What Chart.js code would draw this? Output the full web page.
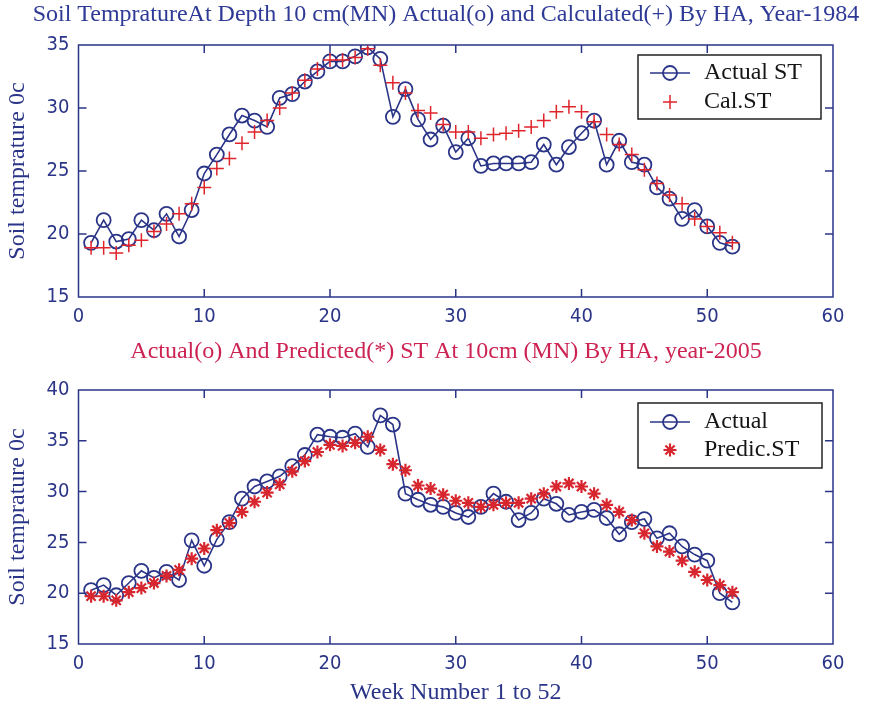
<!DOCTYPE html>
<html>
<head>
<meta charset="utf-8">
<script src="https://cdn.jsdelivr.net/npm/chart.js@4.4.1/dist/chart.umd.min.js"></script>
<style>
  html, body { margin: 0; padding: 0; background: #fff; }
  #wrap { position: relative; width: 872px; height: 712px; }
  #c1 { position: absolute; left: 0; top: 0; }
  #c2 { position: absolute; left: 0; top: 335px; }
</style>
</head>
<body>
<div id="wrap">
  <canvas id="c1" width="872" height="335"></canvas>
  <canvas id="c2" width="872" height="377"></canvas>
</div>
<script>
// week numbers (x values)
const weeks = [1,2,3,4,5,6,7,8,9,10,11,12,13,14,15,16,17,18,19,20,21,22,23,24,25,26,
               27,28,29,30,31,32,33,34,35,36,37,38,39,40,41,42,43,44,45,46,47,48,49,50,51,52];

// 1984 - actual (o) and calculated (+)
const actual1984 = [19.3,21.1,19.4,19.6,21.1,20.3,21.6,19.8,21.9,24.8,26.3,27.9,29.4,29.0,28.5,30.8,31.1,32.1,32.9,33.7,33.7,34.1,34.8,33.9,29.3,31.5,
                    29.1,27.5,28.6,26.5,27.6,25.4,25.6,25.6,25.6,25.7,27.1,25.5,26.9,28.0,29.0,25.5,27.4,25.7,25.5,23.7,22.8,21.2,21.9,20.6,19.3,19.0];
const cal1984 = [18.9,18.9,18.5,19.1,19.5,20.2,20.8,21.6,22.4,23.7,25.2,26.0,27.2,28.1,29.0,30.0,31.2,32.2,33.1,33.8,33.8,34.0,34.7,33.4,32.0,31.2,
                 29.8,29.6,28.7,28.1,28.1,27.6,27.9,28.0,28.2,28.5,29.0,29.7,30.1,29.7,28.9,27.9,27.1,26.3,25.1,24.0,23.1,22.4,21.2,20.6,20.1,19.3];

// 2005 - actual (o) and predicted (*)
const actual2005 = [20.3,20.8,19.8,21.0,22.2,21.5,22.1,21.3,25.2,22.7,25.3,27.0,29.3,30.5,31.0,31.5,32.5,33.6,35.6,35.4,35.3,35.7,34.4,37.5,36.6,29.8,
                    29.2,28.7,28.5,27.9,27.5,28.5,29.8,29.0,27.2,27.9,29.3,28.8,27.7,28.0,28.2,27.4,25.8,27.0,27.3,25.4,25.9,24.6,23.8,23.2,20.0,19.1];
const pred2005 = [19.7,19.7,19.3,20.1,20.5,21.0,21.7,22.3,23.4,24.4,26.2,26.9,28.0,29.0,29.9,30.7,32.0,33.0,33.9,34.6,34.5,34.8,35.4,34.1,32.7,32.1,
                  30.6,30.3,29.7,29.1,28.9,28.5,28.7,28.9,28.9,29.3,29.8,30.5,30.8,30.5,29.8,28.7,28.0,27.2,25.9,24.6,24.1,23.2,22.1,21.3,20.8,20.1];

const NAVY = '#2b3588';
const RED = '#e0242c';
const tickFont = { family: '"Liberation Sans Narrow", "DejaVu Sans Condensed", "Liberation Sans", sans-serif', size: 20 };
const serif = '"Liberation Serif", "DejaVu Serif", serif';

const pts = (ys) => weeks.map((w, i) => ({ x: w, y: ys[i] }));

// matlab style box with inward ticks
const frame = {
  id: 'frame',
  afterDatasetsDraw(chart) {
    const { ctx, chartArea: a, scales } = chart;
    const len = 8;
    ctx.save();
    ctx.strokeStyle = NAVY;
    ctx.lineWidth = 1.5;
    ctx.beginPath();
    scales.x.ticks.forEach(t => {
      const px = scales.x.getPixelForValue(t.value);
      if (px <= a.left + 1 || px >= a.right - 1) return;
      ctx.moveTo(px, a.bottom); ctx.lineTo(px, a.bottom - len);
      ctx.moveTo(px, a.top); ctx.lineTo(px, a.top + len);
    });
    scales.y.ticks.forEach(t => {
      const py = scales.y.getPixelForValue(t.value);
      if (py <= a.top + 1 || py >= a.bottom - 1) return;
      ctx.moveTo(a.left, py); ctx.lineTo(a.left + len, py);
      ctx.moveTo(a.right, py); ctx.lineTo(a.right - len, py);
    });
    ctx.stroke();
    ctx.strokeRect(a.left, a.top, a.width, a.height);
    ctx.restore();
  }
};

// boxed legend in the upper right corner of the plot
const boxLegend = {
  id: 'boxLegend',
  afterDraw(chart, args, o) {
    const { ctx, chartArea: a } = chart;
    const x0 = a.right - o.right - o.width, y0 = a.top + o.top;
    ctx.save();
    ctx.fillStyle = '#fff';
    ctx.fillRect(x0, y0, o.width, o.height);
    ctx.strokeStyle = '#222';
    ctx.lineWidth = 1.5;
    ctx.strokeRect(x0, y0, o.width, o.height);
    chart.data.datasets.forEach((ds, i) => {
      const cy = y0 + o.rowTop + i * o.rowGap;
      const cx = x0 + 32;
      ctx.strokeStyle = ds.borderColor;
      if (ds.showLine !== false) {
        ctx.lineWidth = ds.borderWidth;
        ctx.beginPath();
        ctx.moveTo(x0 + 12, cy); ctx.lineTo(x0 + 52, cy);
        ctx.stroke();
      }
      ctx.fillStyle = 'rgba(0,0,0,0)';
      ctx.lineWidth = ds.pointBorderWidth;
      Chart.helpers.drawPoint(ctx, { pointStyle: ds.pointStyle, radius: ds.pointRadius, borderWidth: ds.pointBorderWidth, rotation: 0 }, cx, cy);
      ctx.fillStyle = '#151515';
      ctx.font = '24px ' + serif;
      ctx.textBaseline = 'middle';
      ctx.fillText(ds.label, x0 + 66, cy);
    });
    ctx.restore();
  }
};

function makeChart(id, cfg) {
  return new Chart(document.getElementById(id), {
    type: 'line',
    data: { datasets: cfg.datasets },
    options: {
      responsive: false,
      animation: false,
      layout: { padding: { left: 20, right: 0, top: 0, bottom: 0 } },
      plugins: {
        legend: { display: false },
        tooltip: { enabled: false },
        title: {
          display: true,
          text: cfg.title,
          color: cfg.titleColor,
          font: { family: serif, size: 24, weight: 'normal', lineHeight: 1.2 },
          padding: cfg.titlePad
        },
        boxLegend: cfg.legend
      },
      scales: {
        x: {
          type: 'linear', min: 0, max: 60,
          grid: { display: false, drawTicks: false },
          border: { display: false },
          ticks: { stepSize: 10, color: NAVY, font: tickFont, padding: 8, maxRotation: 0 },
          title: cfg.xTitle ? {
            display: true, text: cfg.xTitle, color: NAVY,
            font: { family: serif, size: 24, lineHeight: 1.2 },
            padding: { top: 0, bottom: 4.6 }
          } : { display: false },
          afterFit: s => { s.height = cfg.xHeight; }
        },
        y: {
          type: 'linear', min: cfg.yMin, max: cfg.yMax,
          grid: { display: false, drawTicks: false },
          border: { display: false },
          ticks: { stepSize: 5, color: NAVY, font: tickFont, padding: 9 },
          title: {
            display: true, text: 'Soil temprature 0c', color: NAVY,
            font: { family: serif, size: 24, lineHeight: 1.2 },
            padding: { top: -16.4, bottom: 0 }
          },
          afterFit: s => { s.width = 58.5; }
        },
        yR: {
          position: 'right', min: cfg.yMin, max: cfg.yMax,
          grid: { display: false, drawTicks: false },
          border: { display: false },
          ticks: { display: false },
          afterFit: s => { s.width = 39; }
        }
      }
    },
    plugins: [frame, boxLegend]
  });
}

const actualStyle = {
  borderColor: NAVY, borderWidth: 1.6, tension: 0,
  pointStyle: 'circle', pointRadius: 7, pointBorderWidth: 1.8,
  pointBorderColor: NAVY, pointBackgroundColor: 'rgba(0,0,0,0)', order: 1
};

makeChart('c1', {
  title: 'Soil TempratureAt Depth 10 cm(MN) Actual(o) and Calculated(+) By HA, Year-1984',
  titleColor: '#2e3a96',
  titlePad: { top: 0.6, bottom: 15.6 },
  xHeight: 38,
  yMin: 15, yMax: 35,
  legend: { right: 12, top: 10, width: 183, height: 64, rowTop: 18, rowGap: 29 },
  datasets: [
    Object.assign({ label: 'Actual ST', data: pts(actual1984) }, actualStyle),
    {
      label: 'Cal.ST', data: pts(cal1984), showLine: false,
      borderColor: RED, borderWidth: 1.5,
      pointStyle: 'cross', pointRadius: 7, pointBorderWidth: 1.5,
      pointBorderColor: RED, pointBackgroundColor: RED, order: 0
    }
  ]
});

makeChart('c2', {
  title: 'Actual(o) And Predicted(*) ST At 10cm (MN) By HA, year-2005',
  titleColor: '#cc2352',
  titlePad: { top: 2.6, bottom: 23.6 },
  xHeight: 68,
  xTitle: 'Week Number 1 to 52',
  yMin: 15, yMax: 40,
  legend: { right: 11, top: 13, width: 184, height: 65, rowTop: 19, rowGap: 28 },
  datasets: [
    Object.assign({ label: 'Actual', data: pts(actual2005) }, actualStyle),
    {
      label: 'Predic.ST', data: pts(pred2005), showLine: false,
      borderColor: '#d8262f', borderWidth: 2.2,
      pointStyle: 'star', pointRadius: 6.5, pointBorderWidth: 2.2,
      pointBorderColor: '#d8262f', pointBackgroundColor: '#d8262f', order: 0
    }
  ]
});
</script>
</body>
</html>
